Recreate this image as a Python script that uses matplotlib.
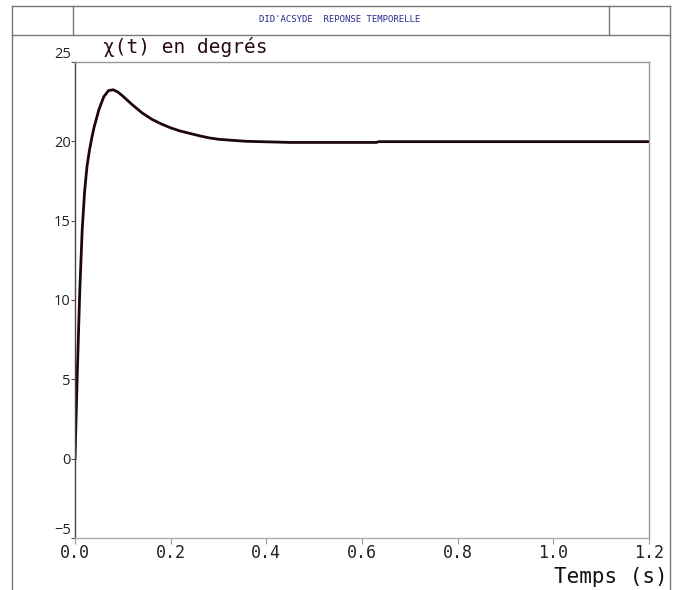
import matplotlib
matplotlib.use("Agg")
import matplotlib.pyplot as plt
from matplotlib.lines import Line2D

# Data
t = [0, 0.005, 0.01, 0.015, 0.02, 0.025, 0.03, 0.035, 0.04, 0.05, 0.06, 0.07,
     0.08, 0.09, 0.1, 0.12, 0.14, 0.16, 0.18, 0.2, 0.22, 0.24, 0.26, 0.28, 0.3,
     0.33, 0.36, 0.4, 0.45, 0.63, 0.635, 1.2]
chi = [0, 5.6, 10.6, 14.4, 16.8, 18.4, 19.4, 20.2, 20.9, 22.0, 22.8, 23.2,
       23.25, 23.1, 22.85, 22.3, 21.8, 21.4, 21.1, 20.85, 20.65, 20.5, 20.35, 20.22, 20.13,
       20.06, 20.0, 19.97, 19.93, 19.93, 19.98, 19.98]
xticks = [0.0, 0.2, 0.4, 0.6, 0.8, 1.0, 1.2]
xticklabels = ["0.0", "0.2", "0.4", "0.6", "0.8", "1.0", "1.2"]
yticks = [-5, 0, 5, 10, 15, 20, 25]
yticklabels = ["\u22125", "0", "5", "10", "15", "20", "25"]

W, H = 675, 590
fig = plt.figure(figsize=(W / 100, H / 100), dpi=100)
fig.patch.set_facecolor("white")

def fx(px):
    return px / W

def fy(py):
    return 1 - py / H

# Outer frame and header box
frame_color = "#777777"
lines = [
    ((12, 12), (6, 590)),
    ((670, 670), (6, 590)),
    ((12, 670), (6, 6)),
    ((12, 670), (35, 35)),
    ((73, 73), (6, 35)),
    ((609, 609), (6, 35)),
]
for (x0, x1), (y0, y1) in lines:
    fig.add_artist(Line2D([fx(x0), fx(x1)], [fy(y0), fy(y1)], color=frame_color, lw=1.0))

fig.text(fx(340), fy(20), "DID'ACSYDE  REPONSE TEMPORELLE", ha="center", va="center",
         fontsize=6.5, color="#2b2b8f", family="DejaVu Sans Mono")

ax = fig.add_axes([fx(75), fy(538), fx(649) - fx(75), fy(62) - fy(538)])
ax.plot(t, chi, color="#1e070c", lw=2.0, solid_joinstyle="round")
ax.set_xlim(0, 1.2)
ax.set_ylim(-5, 25)

ax.set_xticks(xticks)
ax.set_xticklabels(xticklabels, family="DejaVu Sans Mono", fontsize=12, color="#222222")
ax.set_yticks(yticks)
ax.set_yticklabels(yticklabels, family="Open Sans", fontsize=10.5, color="#222222")
ax.tick_params(axis="x", length=4, width=0.8, color="#999999", pad=0)
ax.tick_params(axis="y", length=3, width=0.8, color="#555555", pad=0)
ylabs = ax.get_yticklabels()
ylabs[0].set_va("bottom")
ylabs[-1].set_va("bottom")

ax.spines["left"].set_color("#444444")
ax.spines["bottom"].set_color("#aaaaaa")
ax.spines["top"].set_color("#999999")
ax.spines["right"].set_color("#999999")
for s in ax.spines.values():
    s.set_linewidth(1.0)

fig.text(fx(103), fy(47), "\u03c7(t) en degrés", ha="left", va="center",
         fontsize=14, color="#2a0a12", family="DejaVu Sans Mono")
fig.text(fx(668), fy(577), "Temps (s)", ha="right", va="center",
         fontsize=15, color="#111111", family="DejaVu Sans Mono")

fig.savefig("out.png", dpi=100, facecolor="white")
